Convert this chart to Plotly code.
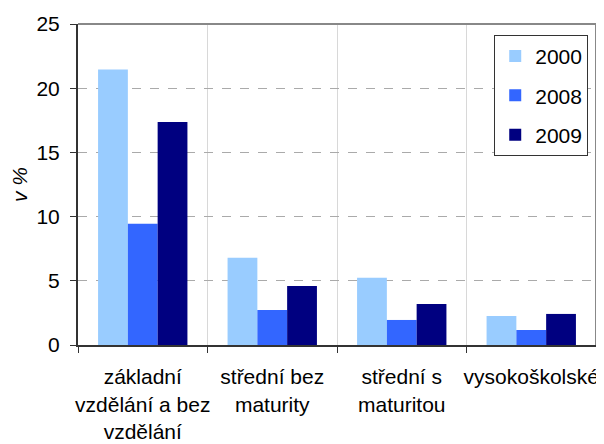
import plotly.graph_objects as go

categories = ["základní<br>vzdělání a bez<br>vzdělání", "střední bez<br>maturity", "střední s<br>maturitou", "vysokoškolské"]
years = ["2000", "2008", "2009"]
v2000 = [21.45, 6.8, 5.23, 2.26]
v2008 = [9.44, 2.73, 1.95, 1.17]
v2009 = [17.37, 4.6, 3.2, 2.42]
colors = ["#99CCFF", "#3366FF", "#000080"]
y_ticks = [0, 5, 10, 15, 20, 25]

fig = go.Figure()
for i, (name, vals) in enumerate(zip(years, [v2000, v2008, v2009])):
    fig.add_trace(go.Bar(x=categories, y=vals, name=name, marker_color=colors[i],
                         marker_line_width=0, legendgroup=name))

fnt = dict(family="Liberation Sans, Arial, sans-serif", size=21, color="black")
fig.update_layout(
    width=596, height=436,
    margin=dict(l=70, r=8, t=16, b=99),
    paper_bgcolor="white", plot_bgcolor="white",
    font=fnt,
    barmode="group", bargap=0.31, bargroupgap=0,
    legend=dict(x=0.985, y=0.966, xanchor="right", yanchor="top",
                bordercolor="#333333", borderwidth=1, bgcolor="white",
                font=fnt, tracegroupgap=9, itemwidth=30),
    showlegend=True,
)
fig.update_xaxes(
    showgrid=True, gridcolor="#D8D8D8", gridwidth=1, tickson="boundaries",
    ticks="outside", ticklen=6, tickcolor="#333333", tickangle=0, automargin=False,
    showline=True, linecolor="#333333", linewidth=2, ticklabelstandoff=12,
    tickfont=fnt,
)
fig.update_yaxes(
    range=[0, 25], tickvals=y_ticks, showgrid=True, gridcolor="#AAAAAA",
    griddash="dash", gridwidth=1, zeroline=False, automargin=False,
    ticks="outside", ticklen=6, tickcolor="#333333", ticklabelstandoff=6,
    showline=True, linecolor="#333333", linewidth=2,
    title=dict(text="<i>v %</i>", standoff=14, font=fnt),
    tickfont=fnt,
)
# top and right plot border
fig.add_shape(type="line", xref="paper", yref="paper", x0=0, x1=1, y0=1, y1=1,
              line=dict(color="#888888", width=2))
fig.add_shape(type="line", xref="paper", yref="paper", x0=1, x1=1, y0=0, y1=1,
              line=dict(color="#888888", width=2))
fig.write_html("out.html")
